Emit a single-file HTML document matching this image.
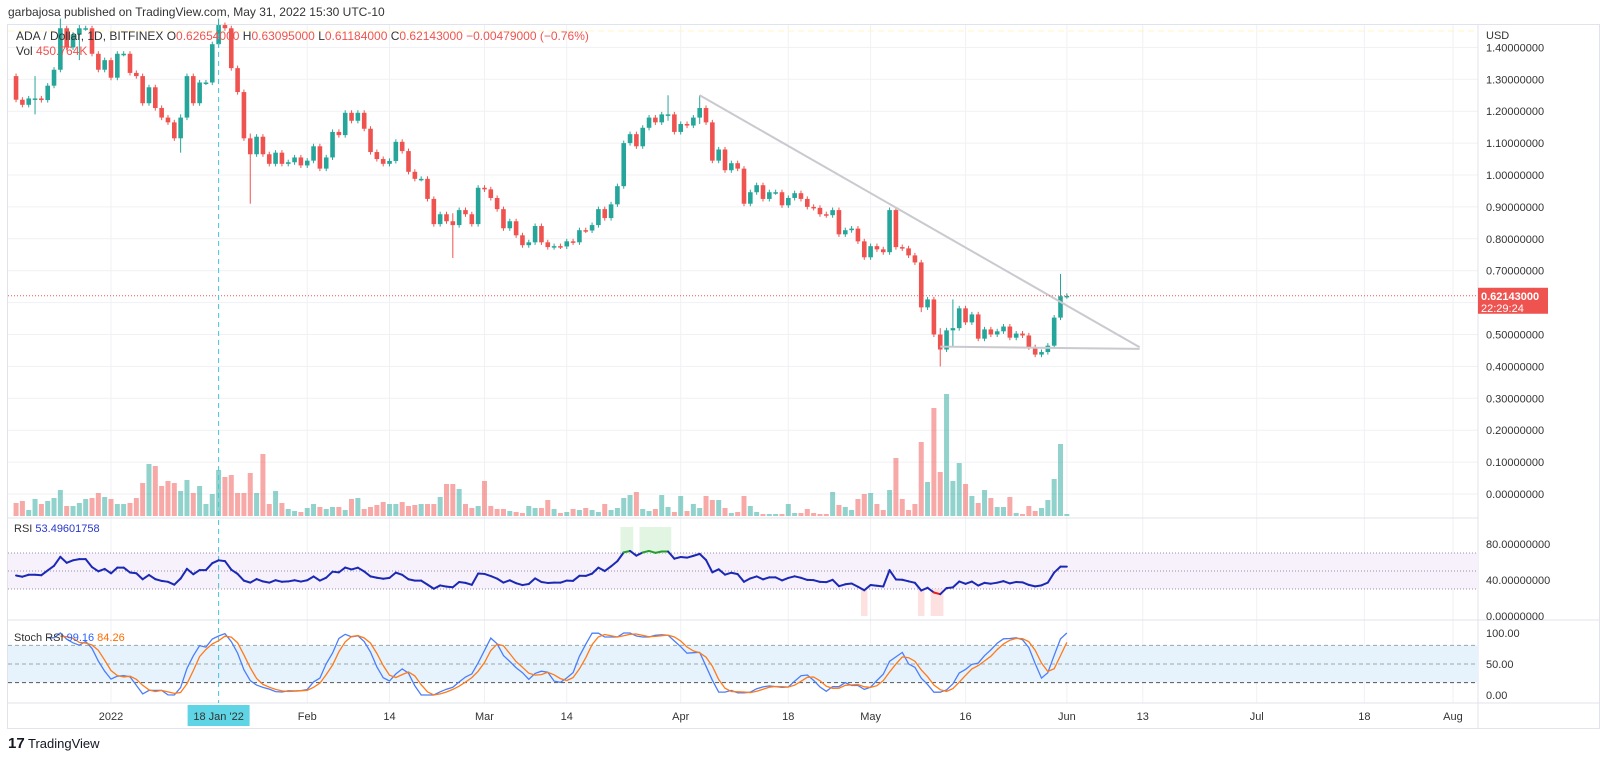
<!DOCTYPE html>
<html><head><meta charset="utf-8"><style>
html,body{margin:0;padding:0;background:#fff;width:1600px;height:772px;overflow:hidden;font-family:"Liberation Sans",sans-serif}
svg text{font-family:"Liberation Sans",sans-serif}
</style></head><body>
<svg id="chart" width="1600" height="772" viewBox="0 0 1600 772" xmlns="http://www.w3.org/2000/svg">
<text x="8" y="16" font-size="12" fill="#333">garbajosa published on TradingView.com, May 31, 2022 15:30 UTC-10</text>
<rect x="7.5" y="24.5" width="1592" height="704" fill="none" stroke="#e0e3eb"/>
<g id="grid"></g>
<g id="bands"></g>
<g id="vol"></g>
<g id="candles"></g>
<g id="lines"></g>
<g id="axes"></g>
<text x="16" y="40" font-size="12" fill="#333">ADA / Dollar, 1D, BITFINEX  O<tspan fill="#ef5350">0.62654000</tspan>  H<tspan fill="#ef5350">0.63095000</tspan>  L<tspan fill="#ef5350">0.61184000</tspan>  C<tspan fill="#ef5350">0.62143000  −0.00479000 (−0.76%)</tspan></text>
<text x="16" y="55" font-size="12" fill="#333">Vol  <tspan fill="#ef5350">450.764K</tspan></text>
<text x="14" y="532" font-size="11" fill="#333">RSI  <tspan fill="#2a37c8">53.49601758</tspan></text>
<text x="14" y="641" font-size="11" fill="#333">Stoch RSI  <tspan fill="#2962ff">99.16</tspan>  <tspan fill="#ff6d00">84.26</tspan></text>
<text x="1486" y="39" font-size="11" fill="#333">USD</text>
<g><text x="8" y="748" font-size="15" font-weight="bold" fill="#131722">17</text><text x="28" y="748" font-size="13" fill="#131722">TradingView</text></g>
</svg>
<script>
const closes=[1.236,1.22,1.24,1.24,1.235,1.28,1.33,1.46,1.40,1.44,1.46,1.46,1.38,1.33,1.36,1.305,
1.38,1.38,1.32,1.31,1.225,1.275,1.21,1.18,1.165,1.115,1.18,1.31,1.225,1.29,1.29,1.41,1.47,1.46,1.335,1.26,1.115,1.065,1.12,1.065,1.035,1.07,1.035,1.04,1.055,1.03,1.045,
1.09,1.02,1.055,1.135,1.125,1.195,1.17,1.195,1.145,1.072,1.05,1.035,1.044,1.104,1.075,1.01,
0.988,0.988,0.925,0.846,0.877,0.855,0.843,0.89,0.877,0.846,0.96,0.955,0.928,0.893,0.833,0.855,0.811,0.78,0.789,0.84,
0.789,0.774,0.777,0.776,0.792,0.789,0.827,0.826,0.843,0.893,0.865,0.908,0.965,1.10,1.128,1.09,1.148,1.18,1.165,1.19,
1.19,1.135,1.16,1.155,1.18,1.21,1.165,1.045,1.08,1.015,1.037,1.02,0.91,0.946,0.968,
0.925,0.946,0.946,0.905,0.928,0.943,0.925,0.9,0.897,0.877,0.874,0.89,0.814,0.827,0.832,0.792,0.742,0.777,0.767,0.758,
0.89,0.774,0.77,0.748,0.726,0.585,0.61,0.5,0.453,0.513,0.52,0.582,0.538,0.563,0.487,0.516,0.5,0.51,0.525,0.49,
0.503,0.497,0.46,0.437,0.445,0.465,0.553,0.62,0.621];
const firstOpen=1.31;
const wickIdx=[3,26,37,69,103,108,143,146,148,165,7,10,32];
const wickHigh=[1.31,1.19,1.13,0.88,1.25,1.25,0.70,0.52,0.61,0.69,1.49,1.47,1.49];
const wickLow=[1.19,1.07,0.91,0.74,1.17,1.16,0.57,0.40,0.46,0.55,1.38,1.36,1.40];
const volumes=[13,15,6,17,12,15,18,26,10,10,13,17,18,23,19,17,12,12,13,18,33,52,50,30,35,33,25,36,23,30,12,22,46,39,41,23,23,43,23,62,12,25,13,7,5,4,8,12,9,7,9,9,6,17,18,7,9,11,14,12,12,14,10,11,12,12,12,19,32,32,27,12,8,10,35,10,7,7,5,4,3,10,
8,8,16,7,3,4,7,6,8,6,4,12,6,8,18,21,24,7,5,7,21,9,4,20,5,12,8,20,16,16,8,3,4,20,10,4,2,2,2,2,12,3,3,7,3,2,2,24,11,9,6,17,22,23,12,6,26,58,17,6,12,74,34,108,44,122,35,53,32,20,13,26,18,9,9,19,3,2,10,5,8,16,37,72,2];
const priceTicks=[1.4,1.3,1.2,1.1,1.0,0.9,0.8,0.7,0.6,0.5,0.4,0.3,0.2,0.1,0.0];
const rsiTicks=[80,40,0];
const stochTicks=[100,50,0];
const timeLabels=["2022","Feb","14","Mar","14","Apr","18","May","16","Jun","13","Jul","18","Aug"];
const timeDays=[0,31,44,59,72,90,107,120,135,151,163,181,198,212];
const trendLine=[[1.25,93],[0.46,162.5]]; // [price, day]
const supportLine=[[0.462,131],[0.455,162.5]];
const lastPrice=0.62143;

const NS="http://www.w3.org/2000/svg";
const PL=8,PR=1478;
function dx(day){return 111+day*6.33;}
function ix(i){return dx(i-closes.length+152);}
function py(p){return 494-319*p;}
function ry(v){return 616-0.9*v;}
function sy(v){return 695-0.62*v;}
function volY(v){return 516-v;}
function mk(tag,attrs,parent){const e=document.createElementNS(NS,tag);for(const k in attrs)e.setAttribute(k,attrs[k]);parent.appendChild(e);return e;}
const G=id=>document.getElementById(id);
const grid=G('grid'),bands=G('bands'),volG=G('vol'),cg=G('candles'),lg=G('lines'),ax=G('axes');
const UP='#26a69a',DN='#ef5350';

timeDays.forEach(d=>{const l=mk('line',{x1:dx(d),x2:dx(d),y1:25,y2:703,stroke:'#f0f1f4'},grid);

});
priceTicks.forEach(p=>{const l=mk('line',{x1:PL,x2:PR,y1:py(p),y2:py(p),stroke:'#f0f1f4'},grid);

});
[[518,PR],[620,1600],[703,1600]].forEach(a=>{const l=mk('line',{x1:PL,x2:a[1],y1:a[0],y2:a[0],stroke:'#e0e3eb'},grid);

});
mk('line',{x1:PR,x2:PR,y1:25,y2:728,stroke:'#e0e3eb'},grid);
mk('line',{x1:PL,x2:PR,y1:31,y2:31,stroke:'#fff4c0','stroke-dasharray':'6 4'},grid);

let r=mk('rect',{x:PL,y:ry(70),width:PR-PL,height:ry(30)-ry(70),fill:'#f6f1fa'},bands);


[70,50,30].forEach(v=>mk('line',{x1:PL,x2:PR,y1:ry(v),y2:ry(v),stroke:'#9c8fb0','stroke-dasharray':'1 2'},bands));
r=mk('rect',{x:PL,y:sy(80),width:PR-PL,height:sy(20)-sy(80),fill:'#e6f3fd'},bands);


[[80,'#9aa'],[50,'#9aa'],[20,'#555']].forEach(a=>mk('line',{x1:PL,x2:PR,y1:sy(a[0]),y2:sy(a[0]),stroke:a[1],'stroke-dasharray':'4 3'},bands));

closes.forEach((c,i)=>{
  const o=i===0?firstOpen:closes[i-1];
  const up=c>=o, col=up?UP:DN, x=ix(i);
  const wi=wickIdx.indexOf(i);
  let hi=Math.max(o,c)+0.008, lo=Math.min(o,c)-0.008;
  if(wi>=0){hi=Math.max(hi,wickHigh[wi]);lo=Math.min(lo,wickLow[wi]);}
  const w=mk('line',{x1:x,x2:x,y1:py(hi),y2:py(lo),stroke:col,'stroke-width':1},cg);
  
  
  const top=py(Math.max(o,c)),h=Math.max(1.5,Math.abs(py(o)-py(c)));
  const b=mk('rect',{x:x-2.3,y:top,width:4.6,height:h,fill:col},cg);
  
  
  const v=volumes[i]||0;
  const vb=mk('rect',{x:x-2.5,y:volY(v),width:5,height:v,fill:up?'rgba(38,166,154,0.5)':'rgba(239,83,80,0.5)'},volG);
  
  
});

[trendLine,supportLine].forEach(t=>{const l=mk('line',{x1:dx(t[0][1]),y1:py(t[0][0]),x2:dx(t[1][1]),y2:py(t[1][0]),stroke:'#c9c9cf','stroke-width':2},lg);

});
let pl=mk('line',{x1:PL,x2:PR,y1:py(lastPrice),y2:py(lastPrice),stroke:'#ef5350','stroke-dasharray':'1 2'},lg);


let ch=mk('line',{x1:dx(17),x2:dx(17),y1:25,y2:703,stroke:'#3fc6d8','stroke-dasharray':'5 4'},lg);



// RSI (Wilder, seeded near neutral)
const rsi=[];let ag=0.018,al=0.022;
closes.forEach((c,i)=>{if(i===0){rsi.push(100-100/(1+ag/al));return;}
 const d=c-closes[i-1],g=Math.max(d,0),l=Math.max(-d,0);
 ag=(ag*13+g)/14;al=(al*13+l)/14;
 rsi.push(al===0?100:100-100/(1+ag/al));});
rsi.forEach((v,i)=>{if(v>70||v<30){const zr=mk('rect',{x:ix(i)-3.2,y:v>70?527:ry(30),width:6.4,height:v>70?ry(70)-527:ry(0)-ry(30),fill:v>70?'#e2f4e2':'#fde0e0'},bands);

}});
for(let i=1;i<rsi.length;i++){const a=rsi[i-1],b=rsi[i];const col=(a>70&&b>70)?'#22a02a':(a<30&&b<30)?'#e0201c':'#1b28b5';
 const s=mk('line',{x1:ix(i-1),y1:ry(a),x2:ix(i),y2:ry(b),stroke:col,'stroke-width':2,'stroke-linecap':'round'},lg);
 
 }
const st=rsi.map((v,i)=>{if(i<3)return null;const w=rsi.slice(Math.max(0,i-13),i+1);const mn=Math.min(...w),mx=Math.max(...w);return mx===mn?50:(v-mn)/(mx-mn)*100;});
const sma=(arr,n)=>arr.map((v,i)=>{const w=arr.slice(Math.max(0,i-n+1),i+1);if(w.length<n||w.some(x=>x===null))return null;return w.reduce((a,b)=>a+b,0)/n;});
const K=sma(st,3),D=sma(K,3);
[[K,'#4d7ef7','stoch-k-line'],[D,'#ff7a1a','stoch-d-line']].forEach(a=>{let d='';a[0].forEach((v,i)=>{if(v===null)return;d+=(d?'L':'M')+ix(i).toFixed(1)+' '+sy(v).toFixed(1);});
 const p=mk('path',{d:d,fill:'none',stroke:a[1],'stroke-width':1.3},lg);
 
 });

priceTicks.forEach(p=>{const t=mk('text',{x:1486,y:py(p)+4,'font-size':11,fill:'#333'},ax);t.textContent=p.toFixed(8);

});
rsiTicks.forEach(v=>{const t=mk('text',{x:1486,y:ry(v)+4,'font-size':11,fill:'#333'},ax);t.textContent=v.toFixed(8);

});
stochTicks.forEach(v=>{const t=mk('text',{x:1486,y:sy(v)+4,'font-size':11,fill:'#333'},ax);t.textContent=v.toFixed(2);

});
timeLabels.forEach((s,i)=>{const t=mk('text',{x:dx(timeDays[i]),y:720,'font-size':11,fill:'#333','text-anchor':'middle'},ax);t.textContent=s;

});
const hb=mk('rect',{x:dx(17)-31,y:705,width:62,height:21,fill:'#5fd4e4'},ax);


const ht=mk('text',{x:dx(17),y:720,'font-size':11,fill:'#333','text-anchor':'middle'},ax);ht.textContent="18 Jan '22";


const lb=mk('rect',{x:1478,y:py(lastPrice)-8,width:70,height:26,fill:'#ef5350'},ax);


const lt=mk('text',{x:1481,y:py(lastPrice)+4,'font-size':11,'font-weight':'bold',fill:'#fff'},ax);lt.textContent=lastPrice.toFixed(8);


const ct=mk('text',{x:1481,y:py(lastPrice)+16,'font-size':11,fill:'#fff'},ax);ct.textContent='22:29:24';


</script>
</body></html>
